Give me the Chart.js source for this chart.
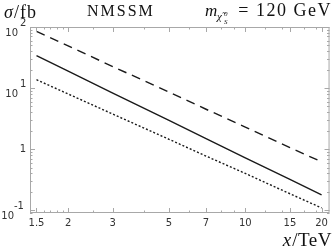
<!DOCTYPE html>
<html>
<head>
<meta charset="utf-8">
<script src="https://cdn.jsdelivr.net/npm/chart.js@4"></script>
<style>
  html, body { margin: 0; padding: 0; background: #fff; }
  #wrap { width: 332px; height: 251px; }
</style>
</head>
<body>
<div id="wrap"><canvas id="chart" width="332" height="251"></canvas></div>
<script>
// ---- data ----
const xValues = [1.5, 2, 3, 5, 7, 10, 15, 20];
const dashedValues = [85, 49, 22.5, 8.6, 4.5, 2.3, 1.06, 0.62];
const solidValues = [34, 19, 8.3, 2.95, 1.49, 0.72, 0.32, 0.178];
const dottedValues = [13.7, 8.0, 3.75, 1.45, 0.77, 0.40, 0.186, 0.109];

const xLabelTicks = [1.5, 2, 3, 5, 7, 10, 15, 20];
const xMinorTicks = [1.6, 1.7, 1.8, 1.9, 2.5, 4, 6, 8, 9, 12, 14, 17, 19];
const yMajorTicks = [0.1, 1, 10, 100];
const yExponents = ["-1", "", "1", "2"];   // "" -> plain "1"

const toXY = vals => xValues.map((x, i) => ({ x: x, y: vals[i] }));

const frameColor = "#a8a8a8";
const serif = "'Liberation Serif', 'DejaVu Serif', serif";
const sans = "'DejaVu Sans', sans-serif";

// -------- frame, inner ticks, y labels, texts ----------
const decorPlugin = {
  id: "decor",
  afterDraw(chart) {
    const { ctx, chartArea: a, scales: { x, y } } = chart;
    ctx.save();
    ctx.strokeStyle = frameColor;
    ctx.lineWidth = 1;
    ctx.strokeRect(a.left + 0.5, a.top + 0.5, a.right - a.left - 1, a.bottom - a.top - 1);

    // y ticks (left + right, drawn inside)
    for (let e = -2; e <= 2; e++) {
      for (let m = 1; m <= 9; m++) {
        const v = m * Math.pow(10, e);
        if (v < y.min || v > y.max) continue;
        const py = Math.round(y.getPixelForValue(v)) + 0.5;
        const len = m === 1 ? 5 : 2.5;
        ctx.beginPath();
        ctx.moveTo(a.left, py); ctx.lineTo(a.left + len, py);
        ctx.moveTo(a.right, py); ctx.lineTo(a.right - len, py);
        ctx.stroke();
      }
    }
    // x ticks (bottom + top)
    xLabelTicks.concat(xMinorTicks).forEach(v => {
      const px = Math.round(x.getPixelForValue(v)) + 0.5;
      const len = xLabelTicks.includes(v) ? 5 : 2.5;
      ctx.beginPath();
      ctx.moveTo(px, a.bottom); ctx.lineTo(px, a.bottom - len);
      ctx.moveTo(px, a.top); ctx.lineTo(px, a.top + len);
      ctx.stroke();
    });

    // y tick labels: "10" a bit below the tick, exponent raised
    ctx.fillStyle = "#333";
    ctx.font = "10px " + sans;
    ctx.textBaseline = "middle";
    yMajorTicks.forEach((v, i) => {
      const py = y.getPixelForValue(v);
      const ex = yExponents[i];
      if (ex === "") {
        ctx.textAlign = "right";
        ctx.fillText("1", 26, py);
        return;
      }
      ctx.textAlign = "right";
      ctx.fillText("10", ex === "-1" ? 14 : 18, py + 6);
      ctx.textAlign = "left";
      ctx.fillText(ex, ex === "-1" ? 14 : 20, py - 4);
    });

    ctx.fillStyle = "#111";
    ctx.textBaseline = "alphabetic";
    ctx.textAlign = "left";
    // sigma / fb
    ctx.font = "italic 18px " + serif;
    ctx.fillText("\u03C3", 4, 18);
    ctx.font = "18px " + serif;
    ctx.letterSpacing = "1px";
    ctx.fillText("/fb", 14, 18);
    ctx.letterSpacing = "0px";

    // NMSSM
    ctx.font = "16px " + serif;
    ctx.letterSpacing = "2px";
    ctx.fillText("NMSSM", 87, 16);
    ctx.letterSpacing = "0px";

    // m_{chi_S^0} = 120 GeV
    ctx.font = "italic 17px " + serif;
    ctx.fillText("m", 205, 16);
    ctx.font = "italic 11px " + serif;
    ctx.fillText("\u03C7\u0303", 217, 20);
    ctx.font = "italic 7px " + serif;
    ctx.fillText("0", 224, 16);
    ctx.fillText("S", 224, 24);
    ctx.font = "18px " + serif;
    ctx.letterSpacing = "1.5px";
    ctx.textAlign = "right";
    ctx.fillText("= 120 GeV", 332, 16);
    ctx.letterSpacing = "0px";

    // x / TeV
    ctx.font = "19px " + serif;
    ctx.letterSpacing = "0.5px";
    const wTeV = ctx.measureText("/TeV").width;
    ctx.fillText("/TeV", 332, 246);
    ctx.letterSpacing = "0px";
    ctx.font = "italic 19px " + serif;
    ctx.fillText("x", 331 - wTeV, 246);
    ctx.restore();
  }
};

const lineStyle = (data, dash) => ({
  data: data,
  borderColor: "#1a1a1a",
  borderWidth: 1.4,
  borderDash: dash,
  pointRadius: 0,
  tension: 0,
  fill: false
});

new Chart(document.getElementById("chart"), {
  type: "line",
  data: {
    datasets: [
      lineStyle(toXY(dashedValues), [9, 6]),
      lineStyle(toXY(solidValues), []),
      lineStyle(toXY(dottedValues), [2, 2])
    ]
  },
  options: {
    responsive: false,
    animation: false,
    events: [],
    layout: { padding: { left: 0, top: 27, right: 2, bottom: 0 } },
    plugins: { legend: { display: false }, tooltip: { enabled: false } },
    scales: {
      x: {
        type: "logarithmic",
        min: 1.414,
        max: 21.5,
        grid: { display: false, drawTicks: false },
        border: { display: false },
        afterBuildTicks: s => { s.ticks = xLabelTicks.map(v => ({ value: v })); },
        afterFit: s => { s.height = 38; },
        ticks: {
          autoSkip: false,
          maxRotation: 0,
          padding: 4,
          color: "#333",
          font: { family: sans, size: 10 },
          callback: v => String(v)
        }
      },
      y: {
        type: "logarithmic",
        min: 0.09,
        max: 100,
        grid: { display: false, drawTicks: false },
        border: { display: false },
        afterBuildTicks: s => { s.ticks = yMajorTicks.map(v => ({ value: v })); },
        afterFit: s => { s.width = 30; },
        ticks: { display: false }
      }
    }
  },
  plugins: [decorPlugin]
});
</script>
</body>
</html>
